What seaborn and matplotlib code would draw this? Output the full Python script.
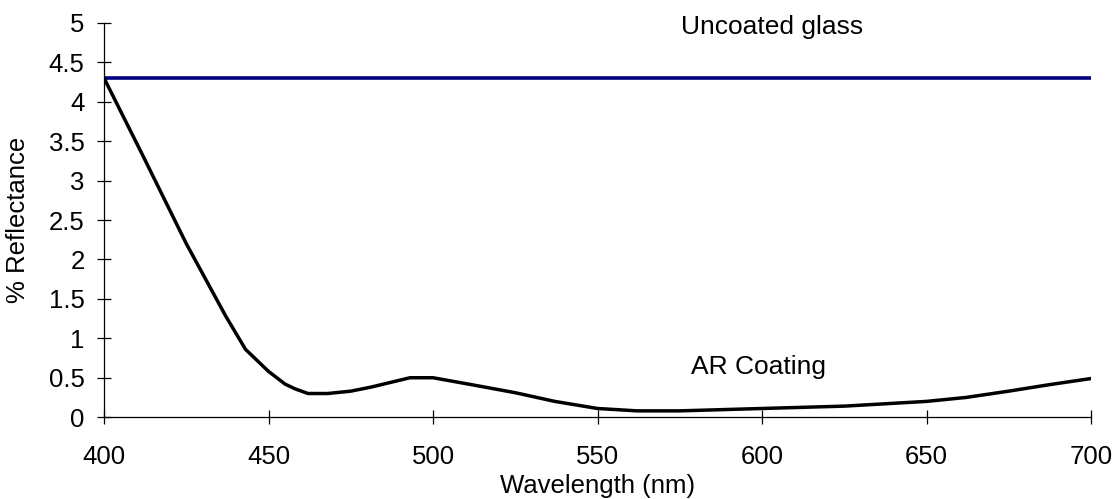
import pandas as pd
import matplotlib
matplotlib.use('Agg')
import matplotlib.pyplot as plt
import seaborn as sns

# Reflectance data
wavelength = [400, 412, 425, 437, 443, 450, 455, 458, 462, 468, 475, 481, 487, 493,
              500, 512, 525, 537, 550, 562, 575, 600, 625, 650, 662, 675, 687, 700]
ar_coating = [4.30, 3.30, 2.20, 1.28, 0.86, 0.58, 0.42, 0.36, 0.30, 0.30, 0.33, 0.38, 0.44, 0.50,
              0.50, 0.41, 0.31, 0.20, 0.11, 0.08, 0.08, 0.11, 0.14, 0.20, 0.25, 0.33, 0.41, 0.49]
uncoated_wl = [400, 700]
uncoated = [4.3, 4.3]

x_ticks = [400, 450, 500, 550, 600, 650, 700]
y_ticks = [0, 0.5, 1, 1.5, 2, 2.5, 3, 3.5, 4, 4.5, 5]
y_tick_labels = ['0', '0.5', '1', '1.5', '2', '2.5', '3', '3.5', '4', '4.5', '5']

df_ar = pd.DataFrame({'wavelength': wavelength, 'reflectance': ar_coating})
df_glass = pd.DataFrame({'wavelength': uncoated_wl, 'reflectance': uncoated})

sns.set_style("white")
plt.rcParams['font.family'] = ['Liberation Sans', 'DejaVu Sans']
plt.rcParams.update({
    'text.color': 'black',
    'axes.labelcolor': 'black',
    'xtick.color': 'black',
    'ytick.color': 'black',
})

fig = plt.figure(figsize=(11.19, 4.99), dpi=100)
ax = fig.add_axes([0.093, 0.164, 0.882, 0.790])

sns.lineplot(data=df_glass, x='wavelength', y='reflectance', color='#000080',
             linewidth=2.6, ax=ax)
sns.lineplot(data=df_ar, x='wavelength', y='reflectance', color='black',
             linewidth=2.5, ax=ax)

ax.set_xlim(400, 700)
ax.set_ylim(0, 5)
ax.set_xticks(x_ticks)
ax.set_yticks(y_ticks)
ax.set_yticklabels(y_tick_labels)

for side in ['top', 'right']:
    ax.spines[side].set_visible(False)
for side in ['left', 'bottom']:
    ax.spines[side].set_color('black')
    ax.spines[side].set_linewidth(0.9)

ax.tick_params(axis='both', direction='inout', length=10, width=0.9,
               color='black', labelsize=18.5, labelcolor='black',
               bottom=True, left=True)
ax.tick_params(axis='x', pad=15)
ax.tick_params(axis='y', pad=9)

ax.set_xlabel('Wavelength (nm)', fontsize=18.5, va='baseline')
ax.set_ylabel('% Reflectance', fontsize=18.5)
ax.xaxis.set_label_coords(0.5, -0.193)
ax.yaxis.set_label_coords(-0.075, 0.5)

ax.text(603, 4.95, 'Uncoated glass', fontsize=19, ha='center', va='center')
ax.text(599, 0.63, 'AR Coating', fontsize=19, ha='center', va='center')

fig.savefig('out.png', dpi=100)
plt.close(fig)
